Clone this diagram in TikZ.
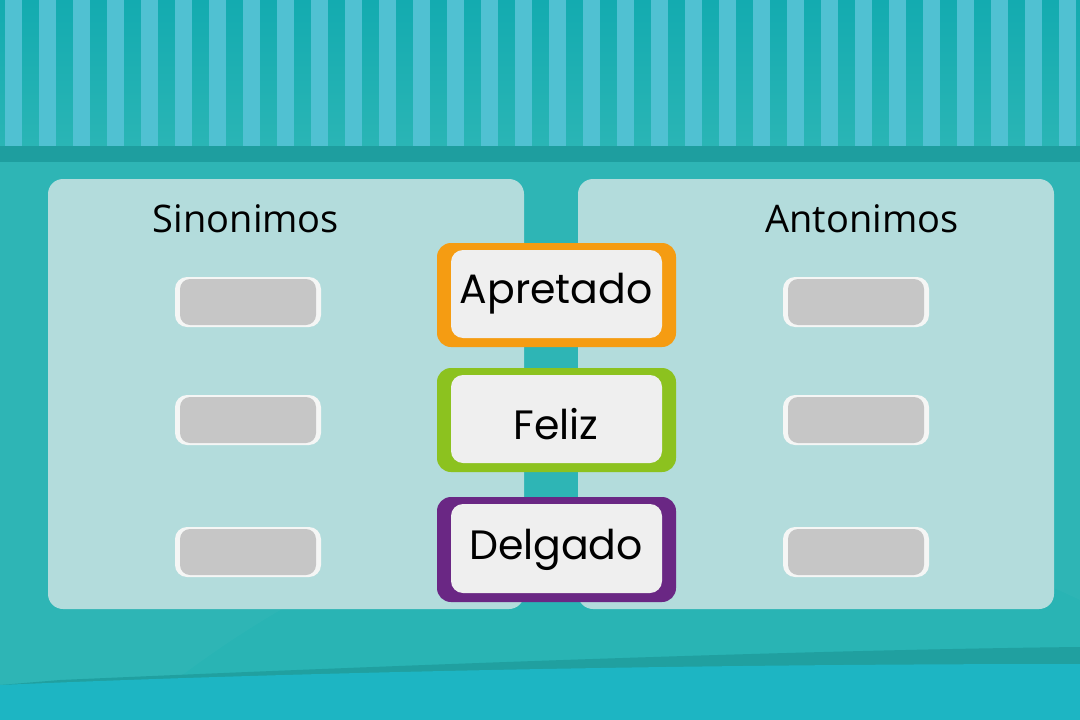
\documentclass[tikz,border=0pt]{standalone}
\usepackage{fontspec}
\setmainfont{Open Sans}
\newfontfamily\wordfont{Poppins}
\definecolor{bgmain}{HTML}{29B4B4}
\definecolor{topdark}{HTML}{13ABB0}
\definecolor{toplow}{HTML}{2AB5B5}
\definecolor{stripe}{HTML}{50C1D2}
\definecolor{band}{HTML}{1E9E9F}
\definecolor{panel}{HTML}{B3DCDC}
\definecolor{slotrim}{HTML}{F5F6F5}
\definecolor{slotgray}{HTML}{C6C6C6}
\definecolor{cardin}{HTML}{EFEFEF}
\definecolor{orng}{HTML}{F59C12}
\definecolor{grn}{HTML}{8CC21F}
\definecolor{purp}{HTML}{6A2784}
\definecolor{wavedark}{HTML}{20A0A0}
\definecolor{wavelow}{HTML}{1DB5C3}
\tikzset{
  title/.style={font=\fontsize{38}{44}\selectfont, text=black, inner sep=0pt},
  word/.style={font=\wordfont\fontsize{41}{48}\selectfont, text=black, inner sep=0pt},
}
\newcommand{\slotbox}[2]{%
  \fill[slotrim, rounded corners=12pt] (#1-73,#2-25) rectangle (#1+73,#2+25);
  \fill[slotgray, rounded corners=10pt] (#1-68,#2-23) rectangle (#1+68,#2+23);
}
\newcommand{\wordcard}[3]{% color, top, bottom
  \fill[#1, rounded corners=14pt] (437,#2) rectangle (676,#3);
  \fill[cardin, rounded corners=12pt] (451,#2+7) rectangle (662,#3-9);
}
\begin{document}
\begin{tikzpicture}[x=1pt,y=-1pt]
\useasboundingbox (0,0) rectangle (1080,720);
% background
\fill[bgmain] (0,0) rectangle (1080,720);
\shade[top color=topdark, bottom color=toplow] (0,0) rectangle (1080,146);
\foreach \i in {0,...,31} {
  \fill[stripe] (5+34*\i,0) rectangle (22+34*\i,146);
}
\fill[band] (0,146) rectangle (1080,162);
% faint light sweep in background
\fill[white, opacity=0.025] (0,162) -- (1080,162) -- (1080,600) .. controls (700,420) and (400,500) .. (150,700) -- (0,700) -- cycle;
% bottom waves
\fill[wavedark] (60,680) .. controls (400,665) and (800,650) .. (1080,647) -- (1080,720) -- (0,720) -- (0,685) -- cycle;
\fill[wavelow] (0,685) .. controls (300,672) and (700,664) .. (1080,664) -- (1080,720) -- (0,720) -- cycle;
% panels
\fill[panel, rounded corners=15pt] (48,179) rectangle (524,609);
\fill[panel, rounded corners=15pt] (578,179) rectangle (1054,609);
% titles
\node[title] (sin) at (246,219) {Sinonimos};
\node[title] (ant) at (862,219) {Antonimos};
% slots
\slotbox{248}{302}
\slotbox{248}{420}
\slotbox{248}{552}
\slotbox{856}{302}
\slotbox{856}{420}
\slotbox{856}{552}
% word cards
\wordcard{orng}{243}{347}
\wordcard{grn}{368}{472}
\wordcard{purp}{497}{602}
\node[word] (apr) at (556,294) {Apretado};
\node[word] (fel) at (556,424) {Feliz};
\node[word] (del) at (556,550) {Delgado};
\end{tikzpicture}
\end{document}
